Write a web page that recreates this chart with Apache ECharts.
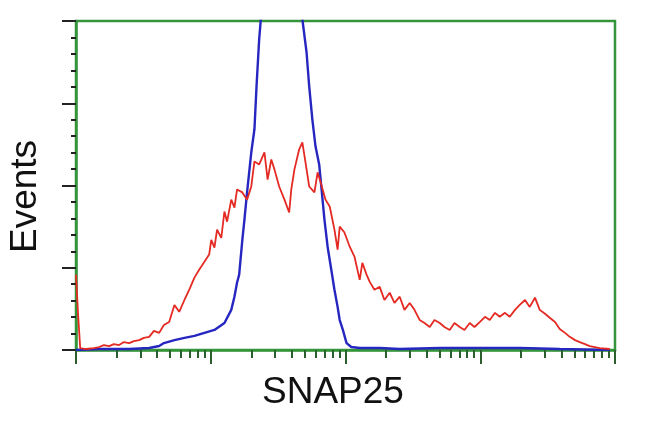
<!DOCTYPE html>
<html>
<head>
<meta charset="utf-8">
<script src="https://cdn.jsdelivr.net/npm/echarts@6/dist/echarts.min.js"></script>
<style>html,body{margin:0;padding:0;background:#fff}#c{width:650px;height:432px}</style>
</head>
<body>
<div id="c"></div>
<script>
// Channels (0-1024 over 4 log decades) and event counts
var redX = [0,4,8,19,34,44,53,63,72,82,91,101,110,120,129,139,148,158,167,177,187,196,206,215,225,234,244,253,257,263,268,276,282,287,295,301,306,316,325,333,339,348,358,364,371,377,386,396,405,409,415,424,430,436,443,453,459,466,474,482,491,497,501,510,520,529,539,544,552,558,567,577,586,596,605,615,624,634,643,653,662,672,681,691,700,710,719,729,738,748,757,767,777,786,796,805,815,824,834,843,853,862,872,881,891,900,910,919,929,938,948,957,967,976,995,1014];
var redY = [22.9,10.7,0.6,0.3,0.6,0.9,1.5,1.2,1.8,1.5,2.4,2.1,2.7,3.0,3.7,4.0,5.8,5.2,7.6,8.5,13.7,11.6,15.2,18.3,22.0,24.4,26.8,29.0,33.5,31.1,36.6,34.1,42.1,39.0,45.7,43.3,48.8,47.9,45.7,49.7,57.3,56.4,60.1,51.8,57.9,54.9,49.7,45.7,41.8,48.8,54.9,61.0,63.1,57.0,49.7,47.9,54.0,50.3,45.7,43.6,36.6,30.5,37.5,35.7,31.4,28.4,21.3,26.5,22.9,20.7,18.3,19.2,15.2,17.4,14.3,16.2,12.2,14.3,12.2,9.1,8.2,7.0,9.1,8.2,7.0,6.1,8.2,7.0,6.1,8.2,7.0,8.5,10.1,9.1,11.3,10.1,11.3,10.1,12.2,13.7,15.2,13.1,15.9,12.2,11.0,9.8,8.5,6.4,5.2,4.0,3.0,2.4,1.8,1.2,0.6,0.3];
var blueX = [0,44,101,139,158,167,187,206,225,244,263,282,295,301,306,310,316,320,325,329,333,339,343,348,354,364,377,390,405,419,430,438,443,449,455,462,466,472,478,485,491,497,501,507,514,523,539,577,615,691,767,843,919,1014];
var blueY = [0,0.3,0.3,0.6,1.2,2.1,3.0,3.7,4.3,5.2,6.1,8.2,12.2,16.2,20.5,22.9,33.5,39.6,47.9,54.0,60.1,67.1,80.2,94.5,106,118,126,128,124,114,100.6,90.5,80.2,70.1,61.9,56.4,49.7,39.6,31.4,24.4,18.3,13.1,9.1,6.1,2.1,0.9,0.6,0.6,0.3,0.6,0.6,0.6,0.3,0];
var xMajorTicks = [0,256,512,768,1024];
var xMinorTicks = [];
for (var d = 0; d < 4; d++) for (var k = 2; k <= 9; k++) xMinorTicks.push(256 * (d + Math.log10(k)));
var xTitle = 'SNAP25';
var yTitle = 'Events';

function pairs(xs, ys){ return xs.map(function(x,i){ return [x, ys[i]]; }); }

var chart = echarts.init(document.getElementById('c'), null, {renderer:'canvas'});
var green = '#35953a';
chart.setOption({
  animation: false,
  backgroundColor: '#ffffff',
  grid: { left: 76, right: 35, top: 21, bottom: 82, show: true, borderColor: green, borderWidth: 2.5, containLabel: false },
  xAxis: [
    { type: 'value', min: 0, max: 1024, position: 'bottom',
      axisLine: { show: true, lineStyle: { color: green, width: 2.5 } },
      axisTick: { show: true, inside: false, length: 14, customValues: xMajorTicks, lineStyle: { color: '#2d5e2d', width: 2 } },
      axisLabel: { show: false }, splitLine: { show: false } },
    { type: 'value', min: 0, max: 1024, position: 'bottom',
      axisLine: { show: false },
      axisTick: { show: true, inside: false, length: 8, customValues: xMinorTicks, lineStyle: { color: '#2d5e2d', width: 2 } },
      axisLabel: { show: false }, splitLine: { show: false } }
  ],
  yAxis: { type: 'value', min: 0, max: 100, interval: 25,
    axisLine: { show: true, lineStyle: { color: green, width: 2.5 } },
    axisTick: { show: true, length: 14, lineStyle: { color: '#222', width: 2 } },
    minorTick: { show: true, splitNumber: 5, length: 5, lineStyle: { color: '#222', width: 2 } },
    axisLabel: { show: false }, splitLine: { show: false } },
  graphic: [
    { type: 'text', left: 262, top: 374, style: { text: xTitle, font: '37px "Liberation Sans", Arial, sans-serif', fill: '#111' } },
    { type: 'text', x: 7, y: 253, rotation: Math.PI/2, style: { text: yTitle, font: '37px "Liberation Sans", Arial, sans-serif', fill: '#111' } }
  ],
  series: [
    { type: 'line', data: pairs(blueX, blueY), xAxisIndex: 0, showSymbol: false, clip: true,
      lineStyle: { color: '#2626c0', width: 2.4 }, z: 2 },
    { type: 'line', data: pairs(redX, redY), xAxisIndex: 0, showSymbol: false, clip: true,
      lineStyle: { color: '#e42a22', width: 1.8 }, z: 3 }
  ]
});
</script>
</body>
</html>
